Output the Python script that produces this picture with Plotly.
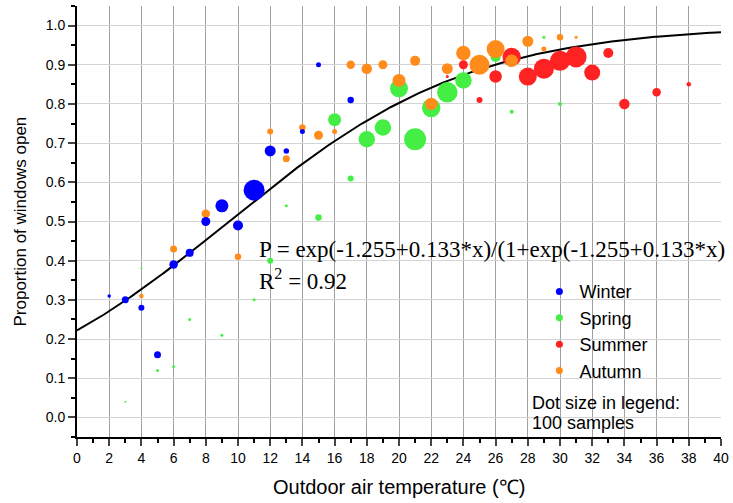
import numpy as np
import plotly.graph_objects as go

# ---- data ----
winter_x = [2, 3, 4, 5, 6, 7, 8, 9, 10, 11, 12, 13, 14, 15, 17]
winter_y = [0.31, 0.30, 0.28, 0.16, 0.39, 0.42, 0.50, 0.54, 0.49, 0.58, 0.68, 0.68, 0.73, 0.90, 0.81]
winter_s = [3.5, 7, 6, 7, 8.5, 8, 9, 13, 10, 21, 11, 5.5, 5, 5, 6.5]

spring_x = [3, 4, 5, 6, 7, 9, 11, 12, 13, 15, 16, 17, 18, 19, 20, 21, 22, 23, 24, 26, 27, 29, 30]
spring_y = [0.04, 0.38, 0.12, 0.13, 0.25, 0.21, 0.30, 0.40, 0.54, 0.51, 0.76, 0.61, 0.71, 0.74, 0.84, 0.71, 0.79, 0.83, 0.86, 0.92, 0.78, 0.97, 0.80]
spring_s = [2, 2, 3, 3, 3, 3, 3, 6, 3, 6.5, 13, 6, 16.5, 16.5, 18, 22, 18.5, 20.5, 16.5, 10, 4, 3, 4]

summer_x = [23, 24, 25, 26, 27, 28, 29, 30, 31, 32, 33, 34, 36, 38]
summer_y = [0.87, 0.90, 0.81, 0.87, 0.92, 0.87, 0.89, 0.91, 0.92, 0.88, 0.93, 0.80, 0.83, 0.85]
summer_s = [3, 9, 6, 12.5, 18.5, 18, 20, 20, 21, 16, 10, 10.5, 8.5, 4.5]

autumn_x = [4, 6, 8, 10, 12, 13, 14, 15, 16, 17, 18, 19, 20, 21, 22, 23, 24, 25, 26, 27, 28, 29, 30, 31]
autumn_y = [0.31, 0.43, 0.52, 0.41, 0.73, 0.66, 0.74, 0.72, 0.73, 0.90, 0.89, 0.90, 0.86, 0.91, 0.80, 0.89, 0.93, 0.90, 0.94, 0.91, 0.96, 0.94, 0.97, 0.97]
autumn_s = [4.5, 7, 8.5, 6.5, 6, 7, 6.5, 9, 5, 8.5, 10.5, 9, 13, 10, 12.5, 11, 14.5, 20, 18, 12.5, 11, 5, 6.5, 3]

# logistic fit coefficients shown on the chart
fit_a = -1.255
fit_b = 0.133

x_ticks = list(range(0, 41, 2))
y_ticks = [round(v * 0.1, 1) for v in range(0, 11)]

season_names = ["Winter", "Spring", "Summer", "Autumn"]
season_colors = ["#0000ff", "#44ee44", "#ff2222", "#ff8c1a"]

fig = go.Figure()

# fitted curve
xc = np.linspace(0, 40, 401)
yc = np.exp(fit_a + fit_b * xc) / (1 + np.exp(fit_a + fit_b * xc))
fig.add_trace(go.Scatter(x=xc, y=yc, mode="lines", line=dict(color="black", width=2),
                         showlegend=False, hoverinfo="skip"))

data = {
    "Winter": (winter_x, winter_y, winter_s),
    "Spring": (spring_x, spring_y, spring_s),
    "Summer": (summer_x, summer_y, summer_s),
    "Autumn": (autumn_x, autumn_y, autumn_s),
}
col = dict(zip(season_names, season_colors))

for name in ["Spring", "Summer", "Autumn", "Winter"]:
    xs, ys, ss = data[name]
    fig.add_trace(go.Scatter(x=xs, y=ys, mode="markers",
                             marker=dict(color=col[name], size=ss, line=dict(width=0), opacity=1),
                             showlegend=False, name=name))

for i, name in enumerate(season_names):
    fig.add_trace(go.Scatter(x=[None], y=[None], mode="markers", name=name,
                             marker=dict(color=col[name], size=7), legendrank=i + 1))

font_sans = "Liberation Sans, Arial, sans-serif"
font_serif = "Liberation Serif, Times New Roman, serif"

fig.update_layout(
    width=733, height=503,
    margin=dict(l=77, r=12, t=6, b=66, autoexpand=False),
    plot_bgcolor="white", paper_bgcolor="white",
    font=dict(family=font_sans, color="black", size=14),
    showlegend=True,
    legend=dict(x=0.718, y=0.38, xanchor="left", yanchor="top",
                font=dict(size=18, family=font_sans), bgcolor="rgba(0,0,0,0)",
                tracegroupgap=0),
    xaxis=dict(range=[0, 40], tickvals=x_ticks, ticks="outside", ticklen=7, tickwidth=1.5,
               showline=True, linecolor="black", linewidth=2, mirror=False,
               showgrid=True, gridcolor="#a0a0a0", gridwidth=1, zeroline=False,
               minor=dict(dtick=1, ticks="outside", ticklen=4, tickcolor="black", showgrid=False),
               tickfont=dict(size=14)),
    yaxis=dict(range=[-0.05, 1.05], tickvals=y_ticks, tickformat=".1f", ticks="outside", ticklen=7,
               tickwidth=1.5, showline=True, linecolor="black", linewidth=2,
               showgrid=True, gridcolor="#d4d4d4", gridwidth=1, zeroline=False,
               minor=dict(dtick=0.05, tick0=0, ticks="outside", ticklen=4, tickcolor="black", showgrid=False),
               tickfont=dict(size=14)),
)

fig.add_annotation(x=11.15, y=0.428, xref="x", yref="y", xanchor="left", yanchor="middle",
                   text="P = exp(-1.255+0.133*x)/(1+exp(-1.255+0.133*x)", showarrow=False,
                   font=dict(family=font_serif, size=23))
fig.add_annotation(x=11.15, y=0.353, xref="x", yref="y", xanchor="left", yanchor="middle",
                   text="R<sup>2</sup> = 0.92", showarrow=False,
                   font=dict(family=font_serif, size=23))
fig.add_annotation(x=28.15, y=0.0375, xref="x", yref="y", xanchor="left", yanchor="middle",
                   text="Dot size in legend:", showarrow=False,
                   font=dict(family=font_sans, size=18))
fig.add_annotation(x=28.15, y=-0.0135, xref="x", yref="y", xanchor="left", yanchor="middle",
                   text="100 samples", showarrow=False,
                   font=dict(family=font_sans, size=18))
fig.add_annotation(x=0.50, y=-0.116, xref="paper", yref="paper", xanchor="center", yanchor="middle",
                   text="Outdoor air temperature (℃)", showarrow=False,
                   font=dict(family=font_sans, size=20))
fig.add_annotation(x=-0.0885, y=0.5, xref="paper", yref="paper", xanchor="center", yanchor="middle",
                   text="Proportion of windows open", textangle=-90, showarrow=False,
                   font=dict(family=font_sans, size=17))

fig.write_html("out.html", config={"displayModeBar": False},
               post_script="document.body.style.margin='0';")
